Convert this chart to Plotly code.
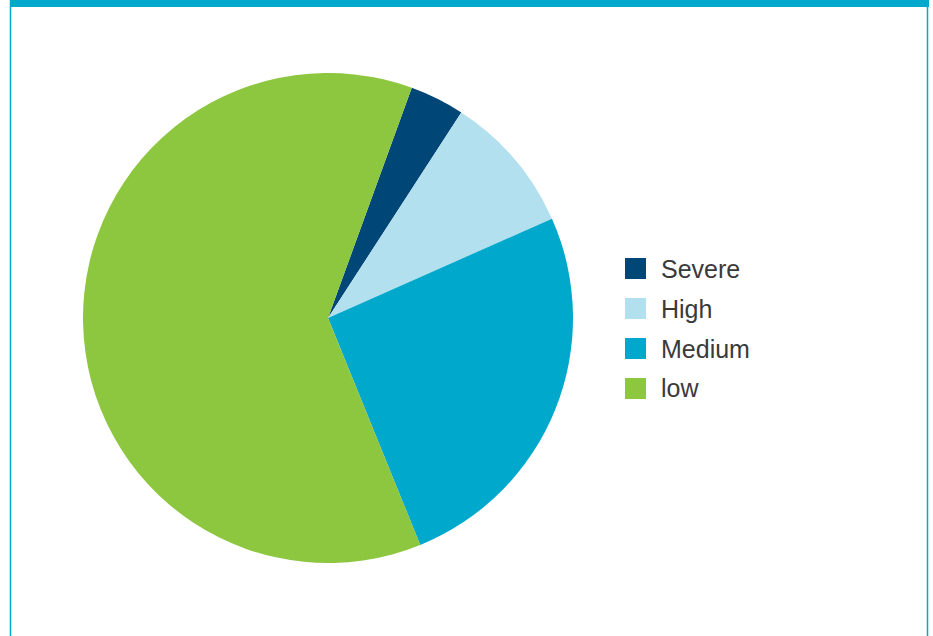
import plotly.graph_objects as go

labels = ["Severe", "High", "Medium", "low"]
values = [3.6, 9.2, 25.5, 61.7]
colors = ["#004677", "#b3e0ee", "#00a8cc", "#8dc63f"]

W, H = 933, 636
cx, cy, r = 328, 318, 245

def px(x):
    return x / W

def py(y):
    return 1 - y / H

fig = go.Figure(go.Pie(
    labels=labels,
    values=values,
    marker=dict(colors=colors, line=dict(width=0)),
    sort=False,
    direction="clockwise",
    rotation=20,
    textinfo="none",
    hoverinfo="label+percent",
    showlegend=False,
    domain=dict(x=[px(cx - r), px(cx + r)], y=[py(cy + r), py(cy - r)]),
))

shapes = [
    dict(type="rect", xref="paper", yref="paper", x0=px(10), x1=px(929), y0=py(7), y1=py(0),
         fillcolor="#00a8cc", line=dict(width=0)),
    dict(type="line", xref="paper", yref="paper", x0=px(10.5), x1=px(10.5), y0=0, y1=1,
         line=dict(color="#00a8cc", width=1.5)),
    dict(type="line", xref="paper", yref="paper", x0=px(927.5), x1=px(927.5), y0=0, y1=1,
         line=dict(color="#00a8cc", width=1.5)),
]
annotations = []
for i, (lab, col) in enumerate(zip(labels, colors)):
    top = 258 + 40 * i
    shapes.append(dict(type="rect", xref="paper", yref="paper",
                       x0=px(625), x1=px(646), y0=py(top + 21), y1=py(top),
                       fillcolor=col, line=dict(width=0)))
    annotations.append(dict(xref="paper", yref="paper", x=px(659), y=py(top + 10.5),
                            xanchor="left", yanchor="middle", text=lab, showarrow=False,
                            font=dict(family="Liberation Sans, Arial, sans-serif", size=25, color="#3a3a3a")))

fig.update_layout(
    width=W, height=H,
    margin=dict(l=0, r=0, t=0, b=0),
    paper_bgcolor="white",
    plot_bgcolor="white",
    shapes=shapes,
    annotations=annotations,
)

fig.write_html("out.html")
